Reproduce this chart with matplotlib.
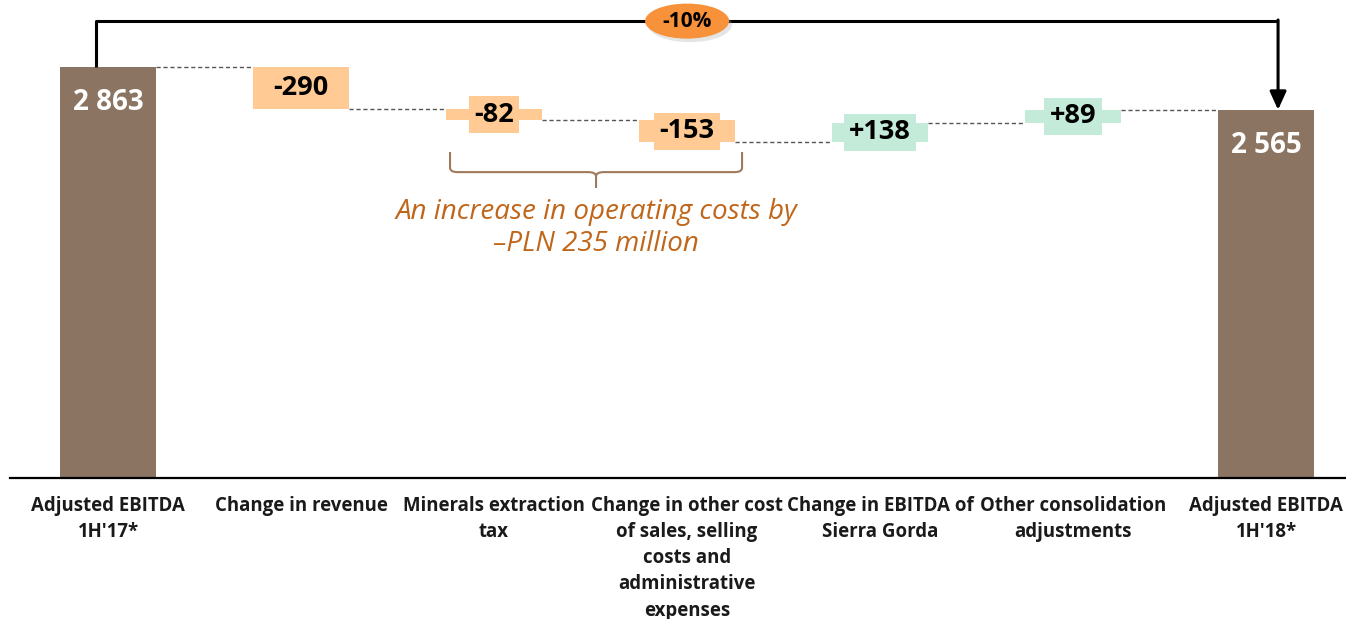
import matplotlib.pyplot as plt
from matplotlib.patches import Ellipse, PathPatch
from matplotlib.path import Path

plt.rcParams['font.family'] = ['Open Sans', 'DejaVu Sans']

categories = ["Adjusted EBITDA\n1H'17*", "Change in revenue", "Minerals extraction\ntax",
              "Change in other cost\nof sales, selling\ncosts and\nadministrative\nexpenses",
              "Change in EBITDA of\nSierra Gorda", "Other consolidation\nadjustments",
              "Adjusted EBITDA\n1H'18*"]
start_value = 2863
deltas = [-290, -82, -153, 138, 89]
end_value = 2565
note_text = "An increase in operating costs by\n\u2013PLN 235 million"

brown = '#8b7562'
neg_color = '#ffca93'
pos_color = '#c4ebda'
width = 0.5

fig = plt.figure(figsize=(13.46, 6.19), dpi=100)
ax = fig.add_axes([0, 0, 1, 1])
ax.set_xlim(-0.5596, 6.414)
ax.set_ylim(-982, 3330)
ax.axis('off')

# totals
ax.bar(0, start_value, width, color=brown)
ax.bar(6, end_value, width, color=brown)
ax.text(0, start_value - 250, f"{start_value:,}".replace(',', ' '), ha='center', va='center',
        color='white', fontsize=20, fontweight='bold')
ax.text(6, end_value - 250, f"{end_value:,}".replace(',', ' '), ha='center', va='center',
        color='white', fontsize=20, fontweight='bold')

# change bars
level = start_value
levels = [start_value]
for i, d in enumerate(deltas, start=1):
    c = neg_color if d < 0 else pos_color
    ax.bar(i, d, width, bottom=level, color=c)
    ax.text(i, level + d / 2, f"{d:+d}", ha='center', va='center', fontsize=19.5,
            fontweight='bold', color='black',
            bbox=dict(boxstyle='square,pad=0.2', fc=c, ec='none'))
    level += d
    levels.append(level)

# connectors between bars
for i, lv in enumerate(levels):
    ax.plot([i + width / 2, i + 1 - width / 2], [lv, lv], color='#555555', lw=1,
            dashes=(3, 2))

# baseline
ax.plot([-0.508, 6.414], [0, 0], color='black', lw=1.6)

# category labels
for i, lab in enumerate(categories):
    ax.text(i, -125, lab, ha='center', va='top', fontsize=13.4, fontweight='bold',
            linespacing=1.41, color='#1a1a1a')

# overall change bracket
top = 3183
ax.plot([-0.062, -0.062, 6.062], [start_value, top, top], color='black', lw=2.2,
        solid_capstyle='butt')
ax.annotate('', xy=(6.062, end_value), xytext=(6.062, top + 8),
            arrowprops=dict(arrowstyle='-|>,head_length=0.55,head_width=0.25',
                            lw=2.2, color='black', mutation_scale=20, shrinkA=0, shrinkB=0))
pct = round((end_value - start_value) / start_value * 100)
ax.add_patch(Ellipse((3.015, top - 25), 0.435, 244, fc='#aaaaaa', ec='none', alpha=0.3,
                     zorder=4))
ax.add_patch(Ellipse((3.0, top), 0.435, 244, fc='#f7923a', ec='none', zorder=5))
ax.text(3.0, top, f"{pct}%", ha='center', va='center', fontsize=15, fontweight='bold',
        zorder=6)

# curly brace under the cost items
x0, x1 = 1.772, 3.285
xm = (x0 + x1) / 2
yt, yh, ytip = 2271, 2131, 2020
r = 0.04
verts = [(x0, yt), (x0, yh + 30), (x0, yh), (x0 + r, yh), (xm - r, yh), (xm, yh), (xm, yh - 30),
         (xm, ytip),
         (xm, yh - 30), (xm, yh), (xm + r, yh), (x1 - r, yh), (x1, yh), (x1, yh + 30), (x1, yt)]
codes = [Path.MOVETO, Path.LINETO, Path.CURVE3, Path.CURVE3, Path.LINETO, Path.CURVE3, Path.CURVE3,
         Path.LINETO,
         Path.MOVETO, Path.CURVE3, Path.CURVE3, Path.LINETO, Path.CURVE3, Path.CURVE3, Path.LINETO]
ax.add_patch(PathPatch(Path(verts, codes), fc='none', ec='#a07a5c', lw=1.5))

ax.text(xm, 1950, note_text, ha='center', va='top', fontsize=20, style='italic',
        color='#c0661a', linespacing=1.17)

fig.savefig('out.png', dpi=100)
